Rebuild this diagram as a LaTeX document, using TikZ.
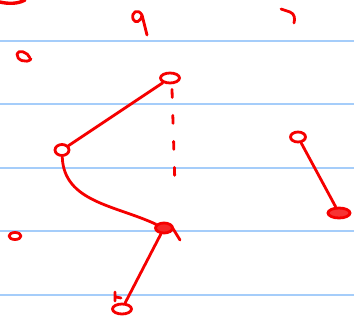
\documentclass[tikz,border=0pt]{standalone}
\usepackage{xcolor}
\usepackage{tikz}
\usetikzlibrary{shapes.geometric}
\definecolor{ruleblue}{RGB}{165,205,250}
\definecolor{inkred}{RGB}{245,0,0}
\tikzset{
  blob/.style={ellipse, draw=inkred, line width=2.8pt, inner sep=0pt,
               minimum width=16pt, minimum height=10pt},
  ink/.style={draw=inkred, line width=2.8pt, line cap=round, line join=round},
  dsh/.style={ink, dash pattern=on 8pt off 18pt},
  rule/.style={draw=ruleblue, line width=1.6pt},
}

\begin{document}
\begin{tikzpicture}[x=1pt,y=-1pt]
\useasboundingbox (0,0) rectangle (354,324);
% ruled paper
\foreach \yy in {41,104,168,231,295}
  \draw[rule] (0,\yy) -- (354,\yy);
% loops
\node[blob, minimum width=19pt] (top) at (170,78) {};
\node[blob, minimum width=14pt, minimum height=11pt] (left) at (62,150) {};
\node[blob, minimum width=17pt, fill=inkred!85] (mid) at (164,228) {};
\node[blob, minimum width=19pt] (bot) at (122,309) {};
\node[blob, minimum width=15pt] (rtop) at (298,137) {};
\node[blob, minimum width=22pt, fill=inkred!80] (rbot) at (339,213) {};
\coordinate (dend) at (175,187);
% strokes
\draw[ink] (top) -- (left);
\draw[ink] (left) to[out=-88, in=155] (mid);
\draw[ink] (mid) -- (bot);
\draw[ink] (rtop) -- (rbot);
\draw[dsh] (top.south) ++(2,5) -- (dend);
% stray marks
\draw[ink, line width=3.4pt] (0,2) .. controls (8,4) and (18,4) .. (25,0);
\draw[ink] (142,15) .. controls (138,8) and (131,12) .. (133,19)
  .. controls (135,24) and (141,22) .. (142,15) -- (147,35);
\draw[ink] (281,9) -- (290,12) .. controls (295,14) and (295,19) .. (294,23);
\draw[ink] (30,58) .. controls (28,52) and (18,49) .. (17,54)
  .. controls (16,60) and (27,64) .. (31,59);
\draw[ink] (15,236) ellipse (6pt and 3.5pt);
\draw[ink] (115,292) -- (115,301) (116,297) -- (121,298);
\draw[ink] (172,227) -- (180,240);
\end{tikzpicture}
\end{document}
